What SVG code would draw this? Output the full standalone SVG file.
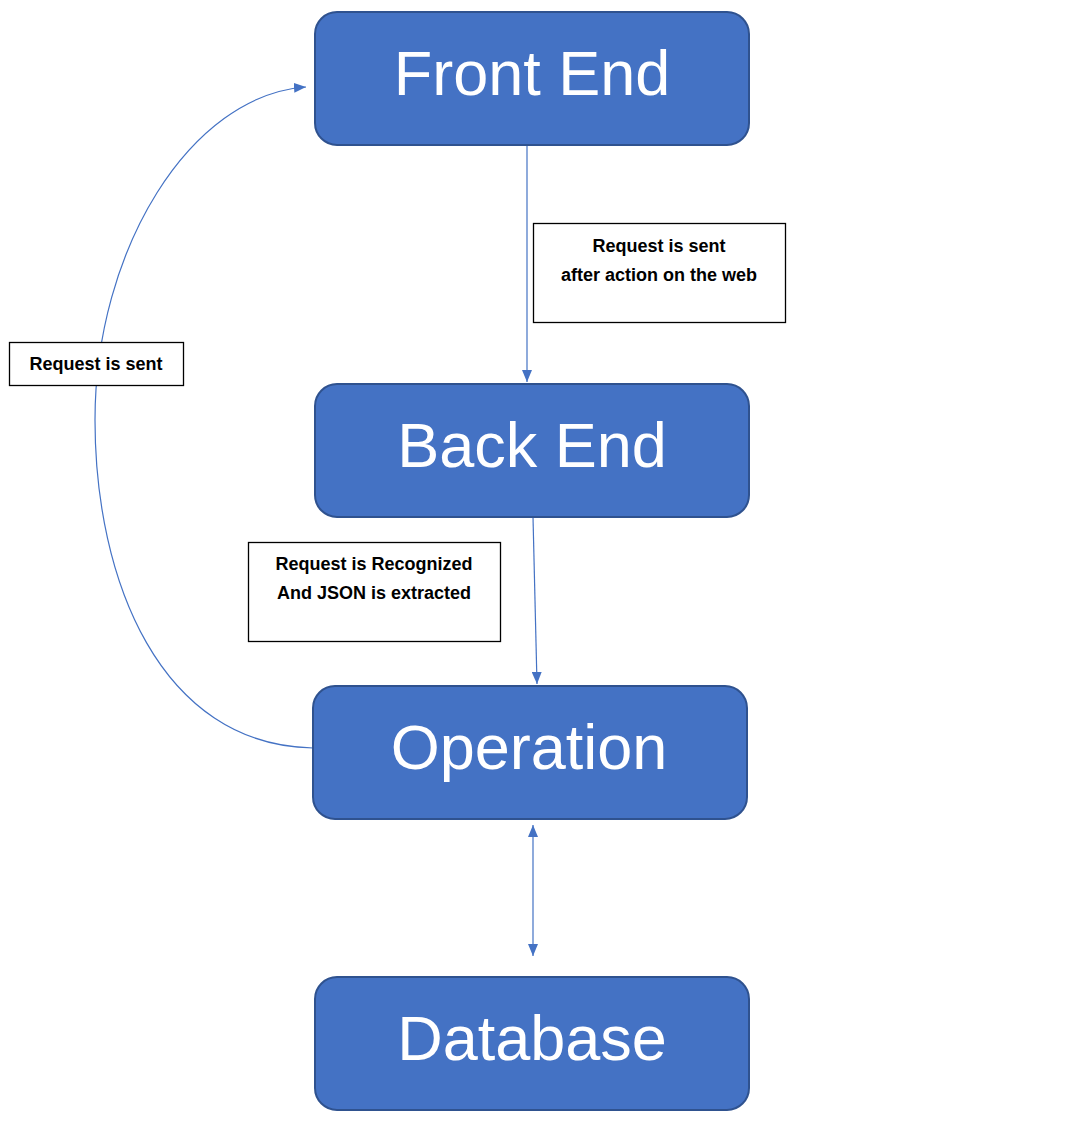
<svg xmlns="http://www.w3.org/2000/svg" width="1084" height="1130" viewBox="0 0 1084 1130">
<style>
.node rect{fill:#4472C4;stroke:#2F528F;stroke-width:2}
.node text{fill:#fff;font-family:"Liberation Sans",Arial,sans-serif;font-size:63px;text-anchor:middle}
.lbl rect{fill:#fff;stroke:#000;stroke-width:1.3}
.lbl text{fill:#000;font-family:"Liberation Sans",Arial,sans-serif;font-size:18px;font-weight:bold;text-anchor:middle}
.conn{stroke:#4472C4;stroke-width:1.2;fill:none}
</style>
<defs>
<marker id="ah" viewBox="0 0 12 10" refX="12" refY="5" markerWidth="12" markerHeight="10" markerUnits="userSpaceOnUse" orient="auto-start-reverse">
<path d="M0,0 L12,5 L0,10 Z" fill="#4472C4"/>
</marker>
</defs>
<rect width="1084" height="1130" fill="#fff"/>
<g id="connectors">
<line class="conn" x1="527" y1="145" x2="527" y2="382" marker-end="url(#ah)"/>
<line class="conn" x1="533" y1="517" x2="537" y2="684" marker-end="url(#ah)"/>
<line class="conn" x1="533" y1="825" x2="533" y2="956" marker-start="url(#ah)" marker-end="url(#ah)"/>
<path class="conn" d="M313,748 C160,745 95,580 95,420 C95,250 190,95 306,87" marker-end="url(#ah)"/>
</g>
<g id="front-end" class="node"><rect x="315" y="12" width="434" height="133" rx="22"/><text x="532" y="95">Front End</text></g>
<g id="back-end" class="node"><rect x="315" y="384" width="434" height="133" rx="22"/><text x="532" y="467">Back End</text></g>
<g id="operation" class="node"><rect x="313" y="686" width="434" height="133" rx="22"/><text x="529" y="769">Operation</text></g>
<g id="database" class="node"><rect x="315" y="977" width="434" height="133" rx="22"/><text x="532" y="1060">Database</text></g>
<g id="label-sent-web" class="lbl"><rect x="533.5" y="223.5" width="252" height="99"/><text x="659" y="252">Request is sent</text><text x="659" y="281">after action on the web</text></g>
<g id="label-sent" class="lbl"><rect x="9.5" y="342.5" width="174" height="43"/><text x="96" y="370">Request is sent</text></g>
<g id="label-recognized" class="lbl"><rect x="248.5" y="542.5" width="252" height="99"/><text x="374" y="570">Request is Recognized</text><text x="374" y="599">And JSON is extracted</text></g>
</svg>
